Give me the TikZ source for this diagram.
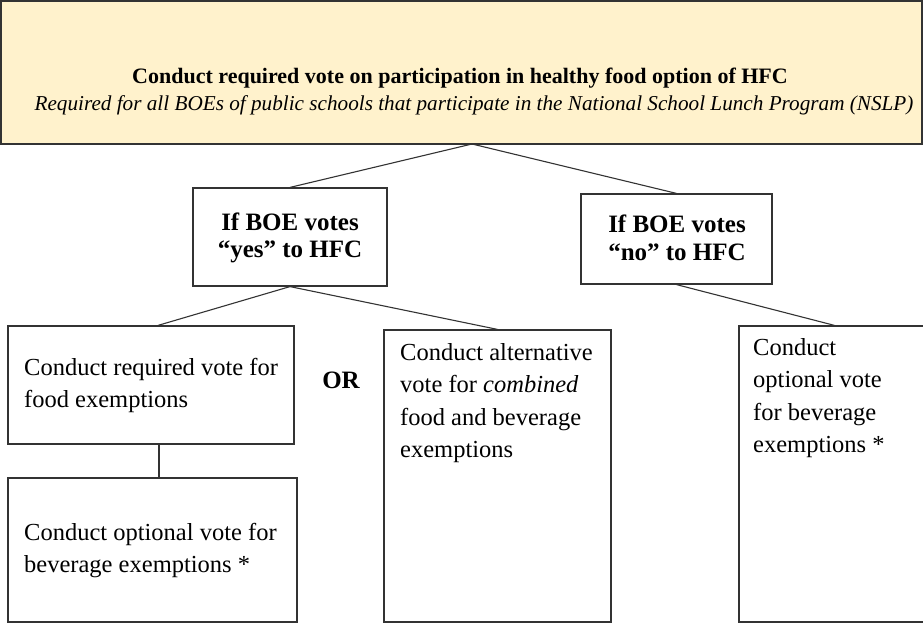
\documentclass[tikz,border=0pt]{standalone}
\usepackage{fontspec}
\setmainfont{Liberation Serif}
\usetikzlibrary{calc}
\definecolor{cream}{HTML}{FFF2CC}
\definecolor{edge}{HTML}{333333}
\begin{document}
\begin{tikzpicture}[x=1pt,y=-1pt,
  box/.style={draw=edge, line width=1.2pt, rectangle, inner sep=0pt},
  conn/.style={draw=edge, line width=1.1pt},
  body/.style={font=\fontsize{24.5}{32.5}\selectfont, align=left, inner sep=0pt, anchor=base west},
  boldtxt/.style={font=\fontsize{25}{27.5}\selectfont\bfseries, align=center, inner sep=0pt}]
\useasboundingbox (0,0) rectangle (923,623);
\fill[white] (0,0) rectangle (923,623);
% boxes
\node[box, fill=cream, minimum width=921pt, minimum height=143pt] (top) at (461.5,72.5) {};
\node[box, minimum width=194pt, minimum height=98pt] (yes) at (290,237) {};
\node[box, minimum width=191pt, minimum height=90pt] (no) at (676.5,239) {};
\node[box, minimum width=286pt, minimum height=118pt] (food) at (151,385) {};
\node[box, minimum width=289pt, minimum height=144pt] (bev) at (152.5,550) {};
\node[box, minimum width=227pt, minimum height=292pt] (comb) at (497.5,476) {};
\node[box, minimum width=191pt, minimum height=296pt] (opt) at (834.5,474) {};
% texts
\node[font=\fontsize{22}{26}\selectfont\bfseries, inner sep=0pt, anchor=base] (title) at (460,84)
  {Conduct required vote on participation in healthy food option of HFC};
\node[font=\fontsize{21.2}{26}\selectfont\itshape, inner sep=0pt, anchor=base] (subtitle) at (474,111)
  {Required for all BOEs of public schools that participate in the National School Lunch Program (NSLP)};
\node[boldtxt] (yestxt) at (290,238) {If BOE votes\\“yes” to HFC};
\node[boldtxt] (notxt) at (677,238) {If BOE votes\\“no” to HFC};
\node[boldtxt] (or) at (341,380) {OR};
% multi-line nodes: base anchor sits on the last line's baseline
\node[body] (foodtxt) at (24,407.5) {Conduct required vote for\\food exemptions};
\node[body] (bevtxt) at (24,572.5) {Conduct optional vote for\\beverage exemptions *};
\node[body] (combtxt) at (400,457.5) {Conduct alternative\\vote for \textit{combined}\\food and beverage\\exemptions};
\node[body] (opttxt) at (753,452.5) {Conduct\\optional vote\\for beverage\\exemptions *};
% connectors
\coordinate (apex) at (472,144);
\draw[conn] (apex) -- (yes.north);
\draw[conn] (apex) -- (no.north);
\draw[conn] (yes.south) -- ([xshift=7pt]food.north);
\draw[conn] (yes.south) -- (comb.north);
\draw[conn] (no.south) -- (opt.north);
\draw[conn] ([xshift=8pt]food.south) -- ([xshift=8pt]food.south |- bev.north);
\end{tikzpicture}
\end{document}
